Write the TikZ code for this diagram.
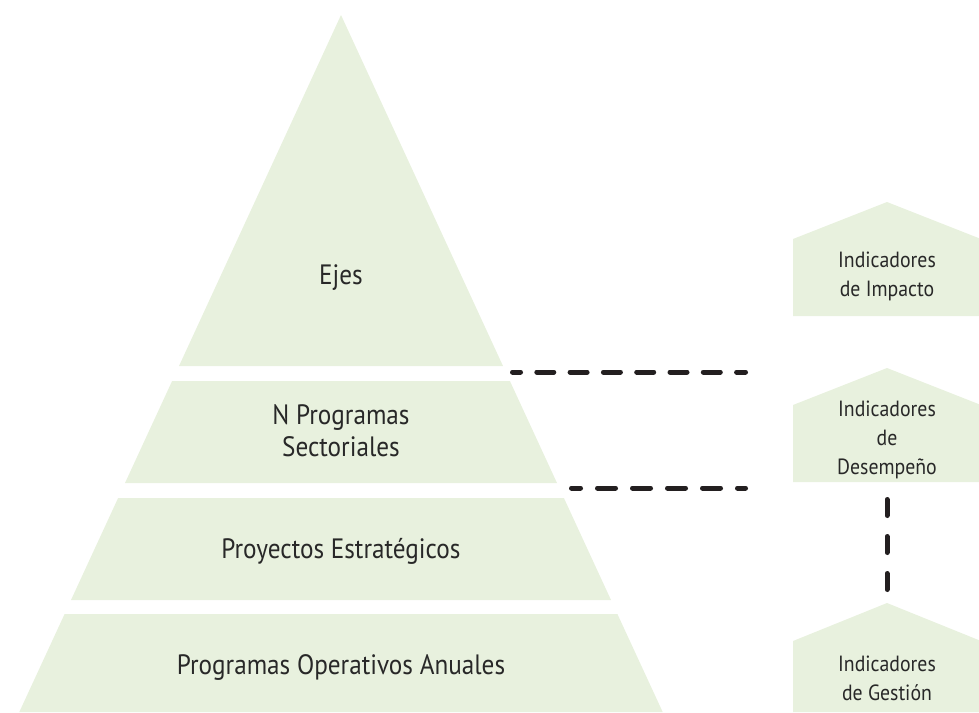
\documentclass[tikz,border=0pt]{standalone}
\usepackage{fontspec}
\setmainfont{PT Sans}[FakeStretch=0.9]
\definecolor{pyr}{RGB}{232,241,222}
\definecolor{txt}{RGB}{40,40,40}
\definecolor{dashc}{RGB}{35,31,32}
\begin{document}
\begin{tikzpicture}[x=1pt,y=-1pt,
  band/.style={fill=pyr},
  bigl/.style={text=txt,font=\fontsize{28}{32}\selectfont,align=center,inner sep=0pt},
  smalll/.style={text=txt,font=\fontsize{22}{29}\selectfont,align=center,inner sep=0pt},
  dline/.style={draw=dashc,line width=5pt,line cap=round}]
\useasboundingbox (0,0) rectangle (979,712);
% pyramid
\fill[band] (341,15) -- (503,366) -- (179,366) -- cycle;
\fill[band] (172.1,381) -- (509.9,381) -- (557,483) -- (125,483) -- cycle;
\fill[band] (118.1,498) -- (563.9,498) -- (611,600) -- (71,600) -- cycle;
\fill[band] (64.6,614) -- (617.4,614) -- (662.7,712) -- (19.3,712) -- cycle;
\node[bigl] (ejes) at (341,278) {Ejes};
\node[bigl] (nps) at (341,431) {N Programas\\Sectoriales};
\node[bigl] (pe) at (341,551) {Proyectos Estratégicos};
\node[bigl] (poa) at (341,667) {Programas Operativos Anuales};
% houses
\fill[band] (793,316) -- (793,239) -- (887,202) -- (981,239) -- (981,316) -- cycle;
\fill[band] (793,482) -- (793,405) -- (887,368) -- (981,405) -- (981,482) -- cycle;
\fill[band] (793,712) -- (793,641) -- (887,603) -- (981,641) -- (981,712) -- cycle;
\node[smalll] (ii) at (887,276) {Indicadores\\de Impacto};
\node[smalll] (id) at (887,440) {Indicadores\\de\\Desempeño};
\node[smalll] (ig) at (887,678) {Indicadores\\de Gestión};
% dashed connectors
\coordinate (d1s) at (512.5,372); \coordinate (d1e) at (745.5,372);
\coordinate (d2s) at (571.5,488); \coordinate (d2e) at (745.5,488);
\coordinate (v1s) at (887,499.5); \coordinate (v1e) at (887,589.5);
\draw[dline,dash pattern=on 17pt off 16.3pt,dash phase=9pt] (d1s) -- (d1e);
\draw[dline,dash pattern=on 18pt off 17pt,dash phase=9pt] (d2s) -- (d2e);
\draw[dline,dash pattern=on 16pt off 21pt] (v1s) -- (v1e);
\end{tikzpicture}
\end{document}
